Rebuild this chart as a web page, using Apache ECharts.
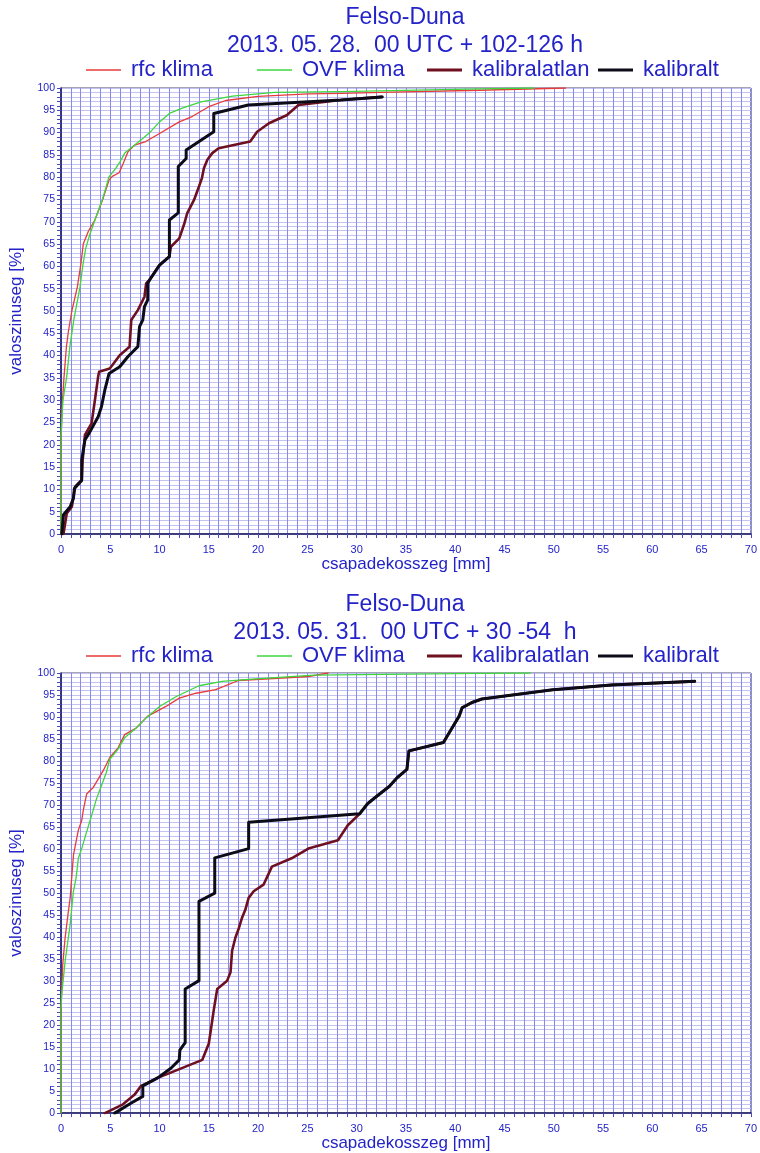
<!DOCTYPE html>
<html>
<head>
<meta charset="utf-8">
<title>Felso-Duna</title>
<script src="https://cdn.jsdelivr.net/npm/echarts@6/dist/echarts.min.js"></script>
<style>
  html, body { margin: 0; padding: 0; background: #ffffff; }
  #chart { width: 760px; height: 1153px; }
</style>
</head>
<body>
<div id="chart"></div>
<script>
// Series names and panel headings
const seriesNames = ['rfc klima', 'OVF klima', 'kalibralatlan', 'kalibralt'];
const stationName = 'Felso-Duna';
const runLabels = ['2013. 05. 28.  00 UTC + 102-126 h', '2013. 05. 31.  00 UTC + 30 -54  h'];
const xTitle = 'csapadekosszeg [mm]';
const yTitle = 'valoszinuseg [%]';

// Panel 1: cumulative distributions, [precipitation mm, probability %]
const rfc1 = [[0,0],[0,20],[0.1,28],[0.3,35],[0.55,42],[0.75,45.4],[1.1,50],[1.66,55.4],[2.0,60.3],[2.26,65],[2.8,68],[3.44,70.4],[4.28,75.3],[4.88,79.4],[5.2,80.2],[5.9,81],[6.3,83],[6.8,85.7],[7.47,87.2],[8.6,88],[10.0,89.8],[12.0,92.4],[13.3,93.6],[15.0,95.8],[16.7,97.2],[20.0,98.1],[25.1,98.7],[28.4,98.8],[32.5,99.0],[42.5,99.5],[51.2,100]];
const ovf1 = [[0,0],[0,22],[0.2,30],[0.58,35.3],[0.9,42],[1.3,48],[1.93,55.4],[2.2,60],[2.5,64],[2.9,67],[3.44,70.4],[4.2,75],[4.6,78],[4.85,80],[5.55,82],[6.0,83.5],[6.5,85.5],[7.47,87.2],[8.3,88.7],[9.0,90],[10.0,92.4],[11.0,94.3],[12.3,95.5],[14.2,96.9],[17.4,98.2],[21.7,99.0],[28.4,99.2],[42.5,99.8],[48,100]];
const raw1 = [[0.25,0],[0.58,4.6],[1.1,6.1],[1.43,10.6],[2.1,12.1],[2.2,16.6],[2.43,22.2],[3.1,24.8],[3.44,30],[3.77,35.3],[3.87,36.4],[4.95,37.1],[5.6,39],[5.96,40.1],[6.96,42],[7.13,48],[7.8,50.2],[8.47,53.2],[8.64,56.2],[9.0,57],[10.0,60.3],[11.0,62.2],[11.15,64.4],[12.0,66.3],[12.5,69.5],[12.8,71.9],[13.5,74.9],[14.0,77.9],[14.3,79.8],[14.5,82],[14.85,83.9],[15.35,85.4],[16.0,86.5],[19.2,88],[19.9,90.2],[21.1,92.1],[22.9,93.9],[24.1,96.2],[28.4,97.3],[32.5,98]];
const cal1 = [[0.08,0],[0.25,4.3],[0.93,6.1],[1.26,8],[1.36,10.2],[2.1,12],[2.1,16.6],[2.43,21.1],[2.93,22.9],[3.77,26.3],[4.1,28.5],[4.45,32.3],[4.88,36],[5.96,37.5],[6.8,39.8],[7.8,42],[7.97,46.5],[8.3,48],[8.47,51],[8.8,52.5],[8.8,56.2],[9.0,57],[10.0,60.3],[11.0,62.2],[11.0,70.4],[11.9,72],[11.9,82.4],[12.7,84.2],[12.7,86.1],[14.2,88.3],[15.5,90.2],[15.5,94.3],[19.0,96.2],[28.4,97.3],[32.6,98]];

// Panel 2
const rfc2 = [[0,0],[0,24],[0.18,33.9],[0.42,39.9],[0.7,45],[0.93,48.9],[1.26,58.6],[1.76,64.3],[2.1,66.5],[2.26,68.8],[2.6,72.5],[3.27,74],[3.77,75.9],[4.28,77.8],[4.95,80.8],[5.79,83],[6.46,86],[7.63,87.5],[8.8,90.2],[10.65,92.4],[12.0,94.3],[13.7,95.4],[15.7,96.2],[18.0,98.3],[25.1,99.2],[27.1,100]];
const ovf2 = [[0,0],[0,23.4],[0.08,27.1],[0.42,34.6],[0.93,42.9],[1.26,50.4],[1.53,53.4],[1.76,57.9],[2.1,60.1],[2.6,63.9],[3.1,67.6],[3.6,71.4],[4.1,74.4],[4.6,77.4],[4.95,80.4],[5.79,82.7],[6.46,85.3],[7.63,87.5],[8.64,89.8],[10.0,92.4],[11.65,94.6],[14.0,97.1],[16.35,98.1],[19.4,98.6],[25.7,99.5],[42.5,99.9],[47.6,100]];
const raw2 = [[4.45,0],[6.29,2],[7.47,4.2],[8.13,6.2],[9.81,8],[14.34,12.1],[15.0,15.8],[15.5,23.4],[15.85,28.2],[16.86,30.1],[17.2,32],[17.36,36.9],[17.7,39.9],[18.0,41.7],[18.37,44.4],[18.7,46.2],[19.04,48.9],[19.55,50.4],[20.55,51.9],[21.4,56],[23.4,57.9],[25.1,60.1],[28.1,62],[29.1,65.4],[30.3,68],[31.1,70.3],[32.1,72.1],[33.3,74.2],[34.1,76.2],[35.1,78.1],[35.3,82.3],[38.8,84.2],[39.6,87.2],[40.4,90.2],[40.7,92.1],[41.7,93.3],[42.7,94.1],[49.9,96.2],[55.9,97.3],[64.3,98.1]];
const cal2 = [[5.45,0],[7.13,2.3],[8.3,3.8],[8.3,6.2],[9.81,8],[11.15,10.2],[12.0,12.1],[12.06,14.3],[12.6,16],[12.6,28.2],[14.0,30.1],[14.0,48.1],[15.6,50],[15.6,58],[19.04,60.1],[19.04,66.1],[30.3,68],[31.1,70.3],[32.1,72.1],[33.3,74.2],[34.1,76.2],[35.1,78.1],[35.3,82.3],[38.8,84.2],[39.6,87.2],[40.4,90.2],[40.7,92.1],[41.7,93.3],[42.7,94.1],[49.9,96.2],[55.9,97.3],[64.3,98.1]];

const panelData = [[rfc1, ovf1, raw1, cal1], [rfc2, ovf2, raw2, cal2]];

// Styling
const FONT = '"Liberation Sans", Arial, sans-serif';
const TEXT_BLUE = '#2323c8';
const lineColors = ['#e83a3a', '#3ed63e', '#6e1020', '#0c0c18'];
const lineWidths = [1.3, 1.3, 2.6, 3];

const GRID_LEFT = 58, GRID_RIGHT = 6;
const panels = [
  { top: 88, height: 446, titleY: 18, subY: 46, legendY: 72 },
  { top: 673, height: 444, titleY: 605, subY: 633, legendY: 658 }
];
// legend line start x for each entry
const legendX = [86, 257, 427, 598];

const chart = echarts.init(document.getElementById('chart'), null, { renderer: 'canvas' });

const grid = [], xAxis = [], yAxis = [], series = [], title = [], legend = [];

panels.forEach((p, pi) => {
  grid.push({
    left: GRID_LEFT, right: GRID_RIGHT, top: p.top, height: p.height,
    show: true, borderColor: '#4a4a6a', borderWidth: 1, backgroundColor: '#ffffff'
  });
  xAxis.push({
    type: 'value', gridIndex: pi, min: 0, max: 70, interval: 1,
    name: xTitle, nameLocation: 'middle', nameGap: 20,
    nameTextStyle: { color: TEXT_BLUE, fontSize: 17, fontFamily: FONT },
    axisLine: { show: true, onZero: false, lineStyle: { color: '#16165e', width: 1.5 } },
    axisTick: { show: true, length: 4, inside: false, lineStyle: { color: '#4a4ab8', width: 1 } },
    axisLabel: {
      color: TEXT_BLUE, fontSize: 11, fontFamily: FONT, margin: 10,
      formatter: v => (v % 5 === 0 ? String(v) : '')
    },
    splitLine: { show: true, lineStyle: { color: '#8a8aea', width: 1 } }
  });
  yAxis.push({
    type: 'value', gridIndex: pi, min: 0, max: 100, interval: 1,
    name: yTitle, nameLocation: 'middle', nameGap: 36,
    nameTextStyle: { color: TEXT_BLUE, fontSize: 17, fontFamily: FONT },
    axisLine: { show: true, onZero: false, lineStyle: { color: '#16165e', width: 1.5 } },
    axisTick: { show: true, length: 4, inside: false, lineStyle: { color: '#4a4ab8', width: 1 } },
    axisLabel: {
      color: TEXT_BLUE, fontSize: 10.5, fontFamily: FONT, margin: 6,
      formatter: v => (v % 5 === 0 ? String(v) : '')
    },
    splitLine: { show: true, lineStyle: { color: '#c2c2f5', width: 1 } }
  });

  title.push({
    text: stationName, left: 405, top: p.titleY - 12, textAlign: 'center', padding: 0,
    textStyle: { color: TEXT_BLUE, fontSize: 23, fontWeight: 'normal', fontFamily: FONT }
  });
  title.push({
    text: runLabels[pi], left: 405, top: p.subY - 12, textAlign: 'center', padding: 0,
    textStyle: { color: TEXT_BLUE, fontSize: 23, fontWeight: 'normal', fontFamily: FONT }
  });

  seriesNames.forEach((name, si) => {
    series.push({
      name, type: 'line', xAxisIndex: pi, yAxisIndex: pi,
      data: panelData[pi][si],
      showSymbol: false, symbol: 'none', smooth: false,
      lineStyle: { color: lineColors[si], width: lineWidths[si], join: 'round', cap: 'round' },
      itemStyle: { color: lineColors[si] },
      z: 2 + si, silent: true, animation: false
    });
    legend.push({
      data: [{ name, icon: 'rect', itemStyle: { color: lineColors[si] } }],
      left: legendX[si], top: p.legendY - 13, padding: 0,
      itemWidth: 35, itemHeight: si < 2 ? 1.5 : 3,
      selectedMode: false,
      textStyle: { color: TEXT_BLUE, fontSize: 22, fontFamily: FONT, padding: [0, 0, 0, 5] }
    });
  });
});

chart.setOption({
  backgroundColor: '#ffffff',
  animation: false,
  title, legend, grid, xAxis, yAxis, series
});
</script>
</body>
</html>
